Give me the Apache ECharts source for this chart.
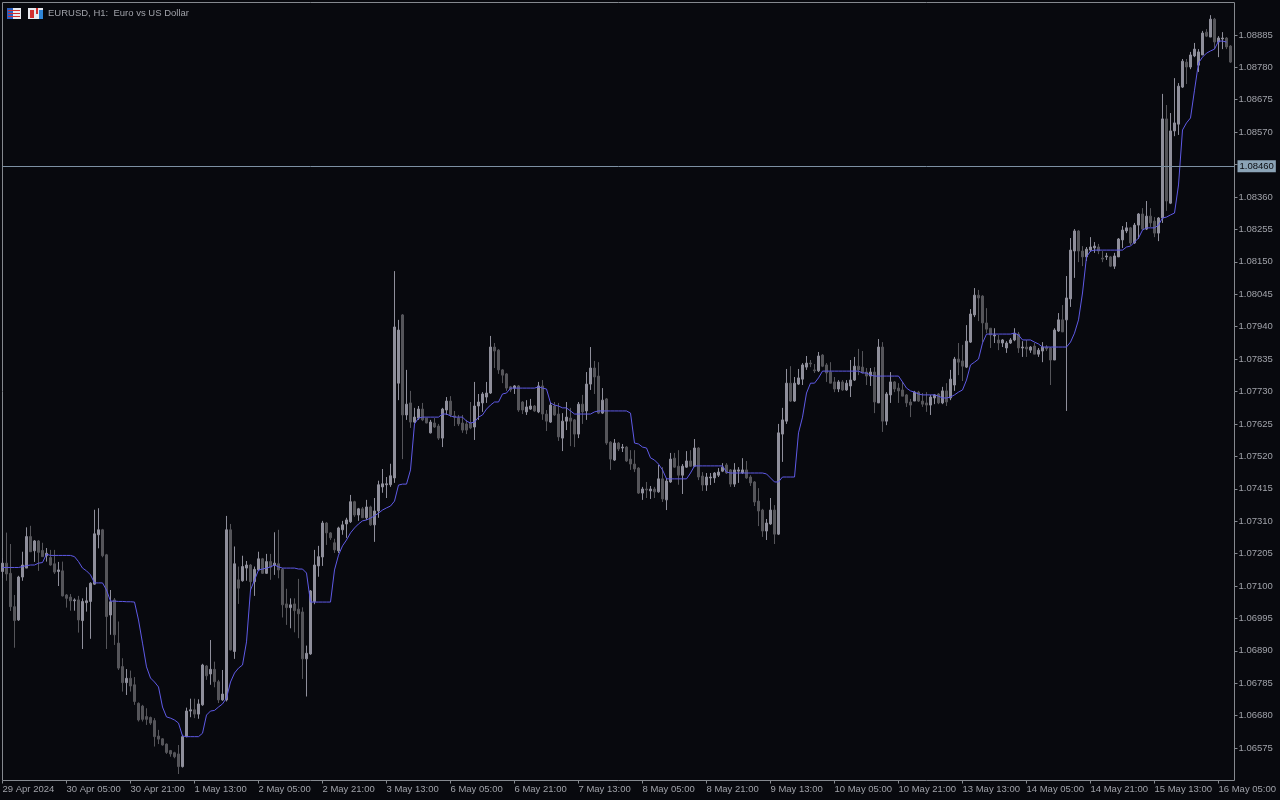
<!DOCTYPE html>
<html>
<head>
<meta charset="utf-8">
<title>EURUSD, H1</title>
<script src="https://cdn.jsdelivr.net/npm/echarts@6/dist/echarts.min.js"></script>
<style>
html,body{margin:0;padding:0;background:#08090e;}
#main{width:1280px;height:800px;}
</style>
</head>
<body>
<div id="main"></div>
<script>
var chartTitle = "EURUSD, H1:  Euro vs US Dollar";
var currentPrice = 1.0846;

// one label every 16 bars
var timeLabels = ["29 Apr 2024","30 Apr 05:00","30 Apr 21:00","1 May 13:00","2 May 05:00","2 May 21:00","3 May 13:00","6 May 05:00","6 May 21:00","7 May 13:00","8 May 05:00","8 May 21:00","9 May 13:00","10 May 05:00","10 May 21:00","13 May 13:00","14 May 05:00","14 May 21:00","15 May 13:00","16 May 05:00"];

// open, close, low, high in points (0.00001)
var candlePoints = [
[107147,107174,107126,107191],[107174,107139,107117,107273],[107141,107033,107019,107236],[107033,106988,106900,107071],
[106990,107129,106987,107133],[107129,107168,107117,107211],[107158,107260,107158,107290],[107260,107211,107210,107295],
[107214,107246,107178,107249],[107246,107209,107149,107249],[107215,107195,107194,107240],[107198,107206,107179,107223],
[107192,107168,107166,107217],[107172,107145,107139,107217],[107147,107152,107100,107178],[107149,107068,107066,107179],
[107071,107060,107030,107074],[107064,107052,107020,107074],[107052,107055,107020,107060],[107055,106990,106949,107068],
[106988,107050,106896,107060],[107046,107052,107017,107096],[107050,107109,106929,107112],[107106,107269,107104,107347],
[107266,107282,107222,107352],[107282,107198,107193,107285],[107201,107001,106896,107204],[107006,107049,106942,107087],
[107055,106942,106909,107061],[106915,106834,106828,106985],[106839,106787,106758,106866],[106787,106801,106747,106831],
[106801,106776,106758,106826],[106780,106726,106715,106805],[106720,106666,106661,106723],[106711,106668,106661,106715],
[106677,106668,106650,106704],[106674,106656,106650,106677],[106664,106612,106580,106672],[106614,106604,106588,106634],
[106605,106585,106583,106607],[106588,106561,106556,106590],[106567,106556,106547,106569],[106560,106547,106542,106563],
[106556,106515,106491,106585],[106515,106612,106512,106618],[106612,106695,106610,106706],[106695,106699,106675,106735],
[106699,106685,106672,106735],[106685,106718,106670,106733],[106715,106844,106712,106848],[106841,106809,106796,106844],
[106815,106830,106780,106925],[106830,106790,106772,106855],[106790,106731,106721,106796],[106731,106750,106728,106828],
[106731,107282,106726,107327],[107282,106893,106891,107301],[106888,107172,106864,107228],[107120,107093,107042,107163],
[107117,107163,107114,107198],[107158,107168,107117,107181],[107168,107114,107082,107171],[107114,107154,107068,107163],
[107152,107188,107150,107211],[107188,107141,107139,107191],[107141,107179,107139,107204],[107179,107161,107120,107204],
[107168,107174,107136,107274],[107172,107152,107125,107282],[107154,107039,106998,107158],[107042,107030,106974,107091],
[107030,107039,106963,107060],[107042,107020,106950,107060],[107025,107010,106931,107123],[107016,106864,106799,107031],
[106864,106882,106742,106907],[106880,107084,106877,107087],[107050,107168,107041,107217],[107165,107195,107130,107230],
[107194,107304,107165,107311],[107304,107272,107233,107307],[107272,107256,107249,107275],[107240,107217,107207,107253],
[107214,107288,107207,107292],[107282,107298,107266,107311],[107301,107314,107256,107321],[107308,107373,107304,107395],
[107373,107330,107324,107376],[107330,107350,107311,107353],[107350,107321,107321,107356],[107321,107356,107314,107379],
[107356,107298,107295,107360],[107298,107343,107243,107385],[107343,107428,107321,107441],[107421,107431,107402,107479],
[107428,107431,107385,107453],[107428,107457,107421,107496],[107450,107939,107434,108120],[107757,107929,107702,107962],
[107978,107654,107511,107981],[107654,107689,107638,107800],[107693,107631,107612,107732],[107631,107647,107628,107677],
[107644,107673,107638,107683],[107673,107638,107634,107693],[107644,107628,107627,107645],[107596,107631,107594,107638],
[107628,107615,107612,107644],[107618,107579,107573,107625],[107579,107673,107550,107677],[107670,107699,107654,107712],
[107699,107654,107647,107715],[107651,107647,107618,107667],[107644,107625,107618,107654],[107628,107605,107596,107654],
[107625,107605,107592,107638],[107628,107612,107608,107696],[107615,107683,107573,107761],[107683,107696,107638,107722],
[107693,107722,107664,107728],[107712,107725,107693,107761],[107725,107874,107722,107910],[107874,107861,107806,107887],
[107864,107800,107787,107867],[107800,107783,107757,107803],[107787,107741,107732,107790],[107745,107735,107728,107748],
[107741,107748,107722,107751],[107748,107670,107664,107751],[107696,107670,107657,107699],[107664,107680,107654,107702],
[107673,107683,107670,107706],[107683,107667,107664,107686],[107664,107748,107660,107761],[107748,107657,107638,107767],
[107657,107634,107602,107670],[107631,107686,107628,107696],[107683,107654,107651,107696],[107657,107583,107570,107693],
[107579,107634,107537,107660],[107634,107647,107605,107696],[107644,107634,107553,107677],[107638,107592,107550,107641],
[107592,107689,107579,107696],[107689,107664,107625,107719],[107667,107754,107638,107793],[107754,107806,107735,107874],
[107806,107777,107722,107829],[107780,107660,107657,107825],[107660,107702,107657,107741],[107706,107563,107557,107709],
[107566,107511,107476,107569],[107508,107563,107505,107576],[107563,107544,107537,107566],[107547,107550,107534,107560],
[107550,107505,107502,107553],[107511,107495,107476,107540],[107495,107479,107469,107540],[107482,107401,107398,107485],
[107401,107414,107379,107421],[107414,107411,107385,107437],[107408,107414,107382,107424],[107414,107405,107385,107421],
[107405,107447,107402,107492],[107447,107382,107372,107485],[107379,107440,107346,107450],[107437,107511,107434,107531],
[107514,107485,107483,107531],[107488,107459,107428,107540],[107459,107488,107398,107495],[107485,107505,107483,107537],
[107505,107488,107486,107540],[107488,107547,107485,107576],[107547,107453,107443,107550],[107456,107427,107408,107469],
[107427,107453,107408,107466],[107450,107453,107427,107466],[107450,107466,107434,107469],[107459,107469,107453,107482],
[107472,107485,107469,107498],[107492,107466,107463,107498],[107476,107430,107421,107479],[107430,107476,107421,107498],
[107472,107476,107434,107485],[107466,107476,107463,107514],[107476,107450,107447,107505],[107453,107434,107424,107459],
[107437,107372,107359,107440],[107375,107343,107294,107417],[107346,107278,107259,107350],[107278,107304,107249,107317],
[107301,107346,107298,107385],[107346,107268,107236,107362],[107268,107596,107265,107625],[107592,107638,107502,107677],
[107634,107757,107625,107803],[107757,107699,107696,107812],[107699,107757,107696,107777],[107754,107774,107751,107803],
[107770,107816,107751,107822],[107809,107822,107800,107845],[107822,107819,107809,107832],[107800,107797,107790,107819],
[107797,107845,107793,107858],[107848,107812,107809,107851],[107816,107790,107761,107822],[107793,107757,107757,107825],
[107761,107738,107728,107777],[107738,107761,107728,107767],[107761,107735,107732,107767],[107735,107757,107732,107767],
[107748,107767,107712,107832],[107767,107812,107764,107842],[107812,107800,107783,107868],[107809,107790,107790,107861],
[107793,107780,107751,107806],[107780,107793,107748,107806],[107793,107696,107660,107809],[107693,107874,107693,107900],
[107874,107634,107599,107890],[107634,107722,107621,107728],[107719,107761,107693,107793],[107761,107738,107728,107764],
[107741,107732,107693,107757],[107735,107715,107715,107761],[107719,107693,107680,107722],[107696,107686,107647,107706],
[107699,107728,107699,107732],[107728,107699,107696,107732],[107699,107689,107680,107725],[107693,107686,107664,107728],
[107686,107712,107654,107719],[107709,107719,107689,107722],[107722,107693,107689,107725],[107693,107732,107689,107745],
[107732,107696,107683,107757],[107709,107770,107702,107800],[107751,107835,107732,107842],[107835,107825,107783,107887],
[107829,107812,107764,107881],[107809,107893,107806,107945],[107890,107981,107887,107997],[107978,108042,107971,108065],
[108042,108033,107958,108059],[108039,107952,107890,108042],[107952,107932,107919,108000],[107935,107913,107871,107935],
[107910,107913,107887,107935],[107897,107887,107864,107913],[107887,107897,107874,107900],[107871,107887,107855,107893],
[107887,107897,107884,107903],[107897,107919,107893,107935],[107916,107871,107855,107923],[107871,107874,107842,107893],
[107874,107868,107842,107897],[107864,107874,107855,107877],[107877,107851,107851,107887],[107851,107864,107842,107871],
[107861,107874,107825,107890],[107874,107868,107861,107880],[107871,107832,107751,107874],[107832,107929,107832,107935],
[107926,107962,107923,107984],[107962,107923,107923,108010],[107962,108033,107667,108104],[108030,108188,108004,108227],
[108185,108250,108098,108256],[108250,108185,108149,108253],[108185,108166,108136,108201],[108166,108191,108153,108198],
[108188,108198,108182,108230],[108195,108201,108179,108214],[108198,108185,108175,108208],[108162,108159,108149,108185],
[108166,108169,108156,108179],[108166,108136,108133,108169],[108136,108169,108127,108179],[108166,108224,108166,108227],
[108221,108253,108195,108266],[108250,108260,108243,108279],[108260,108211,108204,108263],[108211,108269,108208,108276],
[108269,108305,108224,108308],[108305,108256,108253,108324],[108256,108298,108253,108347],[108298,108276,108263,108324],
[108282,108243,108230,108295],[108243,108292,108217,108295],[108292,108613,108276,108694],[108613,108347,108315,108658],
[108340,108574,108337,108632],[108574,108600,108557,108745],[108596,108719,108561,108729],[108716,108800,108713,108807],
[108797,108781,108726,108807],[108781,108820,108774,108830],[108817,108839,108813,108859],[108787,108830,108765,108839],
[108820,108891,108820,108898],[108894,108881,108878,108904],[108878,108936,108878,108949],[108936,108862,108839,108940],
[108862,108875,108813,108881],[108872,108875,108839,108894],[108875,108846,108839,108878],[108849,108797,108794,108852]
];

// blue indicator line, points, one per bar
var linePoints = [
107160,107160,107160,107160,107160,107163,107166,107168,107168,107174,107176,107203,107199,107199,107199,107199,
107199,107199,107195,107179,107158,107149,107136,107110,107110,107110,107087,107051,107051,107050,107050,107049,
107049,107048,106990,106915,106838,106802,106789,106773,106708,106676,106672,106666,106656,106614,106612,106612,
106612,106612,106623,106682,106695,106697,106708,106718,106737,106789,106818,106834,106844,106919,107087,107119,
107152,107155,107158,107162,107168,107162,107158,107158,107158,107158,107155,107155,107142,107048,107048,107048,
107048,107048,107048,107152,107200,107230,107249,107272,107288,107301,107311,107314,107320,107327,107336,107346,
107353,107359,107375,107427,107430,107430,107476,107625,107644,107647,107647,107647,107647,107647,107657,107657,
107651,107647,107647,107647,107634,107628,107631,107647,107654,107673,107686,107696,107696,107722,107725,107741,
107741,107741,107741,107741,107741,107741,107745,107741,107738,107693,107686,107683,107677,107677,107667,107657,
107657,107657,107657,107657,107664,107667,107667,107667,107667,107667,107667,107667,107667,107660,107563,107560,
107550,107547,107515,107508,107495,107476,107447,107447,107447,107447,107447,107447,107466,107489,107489,107489,
107489,107489,107489,107489,107489,107469,107466,107466,107466,107466,107466,107466,107466,107466,107466,107463,
107450,107437,107437,107453,107453,107453,107453,107596,107647,107725,107757,107757,107774,107796,107796,107796,
107796,107796,107796,107796,107796,107796,107796,107790,107790,107783,107780,107780,107780,107780,107780,107780,
107780,107761,107741,107732,107728,107722,107719,107719,107719,107719,107715,107709,107709,107712,107719,107728,
107735,107767,107816,107825,107835,107887,107916,107916,107916,107916,107916,107916,107916,107919,107913,107897,
107897,107897,107890,107884,107874,107874,107874,107874,107874,107874,107874,107890,107919,107962,108049,108166,
108185,108188,108188,108188,108188,108188,108188,108188,108188,108198,108201,108214,108227,108253,108260,108260,
108260,108269,108292,108295,108302,108308,108399,108577,108600,108616,108706,108794,108813,108826,108833,108839,
108865,108865,108862
];

var upColor = "#8f8f9b";
var downColor = "#55555a";
var frameColor = "#85898f";
var textColor = "#a0a2a9";
var fontName = "Liberation Sans";

var categories = [];
var labelByIndex = {};
timeLabels.forEach(function(t, n){ labelByIndex[n * 16] = t; });
// one spare slot after the last bar so the frame ends 4px past it
for(var i = 0; i <= candlePoints.length; i++){
    categories.push(labelByIndex[i] || "");
}

var candleData = candlePoints.map(function(r){
    return r.map(function(v){ return v / 100000; });
});
var lineData = linePoints.map(function(v){ return v / 100000; });

function isLabelBar(index){
    return index % 16 === 0 && index < candlePoints.length;
}

var chart = echarts.init(document.getElementById("main"), null, {renderer: "canvas"});

chart.setOption({
    animation: false,
    backgroundColor: "#08090e",
    textStyle: {fontFamily: fontName},
    title: {
        text: chartTitle,
        left: 48,
        top: 8,
        padding: 0,
        textStyle: {color: textColor, fontSize: 9.5, fontWeight: "normal", fontFamily: fontName}
    },
    grid: {
        show: true,
        left: 2.5,
        top: 2.5,
        width: 1232,
        height: 778,
        outerBoundsMode: "none",
        borderColor: frameColor,
        borderWidth: 1,
        backgroundColor: "transparent"
    },
    xAxis: {
        type: "category",
        data: categories,
        boundaryGap: false,
        axisLine: {show: false},
        axisTick: {show: true, length: 3, interval: isLabelBar, lineStyle: {color: frameColor}},
        splitLine: {show: false},
        axisLabel: {
            interval: isLabelBar,
            hideOverlap: false,
            align: "left",
            margin: 4,
            color: textColor,
            fontSize: 9.5,
            fontFamily: fontName
        }
    },
    yAxis: {
        type: "value",
        position: "right",
        scale: true,
        min: 1.0647,
        max: 1.0899,
        interval: 0.00105,
        splitLine: {show: false},
        axisLine: {show: false},
        axisTick: {show: true, length: 3, lineStyle: {color: frameColor}},
        axisLabel: {
            showMinLabel: false,
            showMaxLabel: false,
            margin: 4,
            color: textColor,
            fontSize: 9.5,
            fontFamily: fontName,
            formatter: function(v){
                // the live price tag replaces this tick
                if(Math.abs(v - 1.08465) < 0.00001){
                    return "";
                }
                return v.toFixed(5);
            }
        }
    },
    series: [
        {
            type: "candlestick",
            data: candleData,
            barWidth: 2,
            clip: true,
            itemStyle: {
                color: upColor,
                color0: downColor,
                borderColor: upColor,
                borderColor0: downColor,
                borderWidth: 1
            }
        },
        {
            type: "line",
            data: lineData,
            showSymbol: false,
            symbol: "none",
            smooth: false,
            lineStyle: {color: "#5f5ae6", width: 1},
            markLine: {
                silent: true,
                symbol: "none",
                precision: 5,
                animation: false,
                lineStyle: {color: "#7d90a3", width: 1, type: "solid"},
                label: {
                    show: true,
                    position: "end",
                    distance: 3,
                    formatter: function(p){ return p.value.toFixed(5); },
                    color: "#0a0c10",
                    backgroundColor: "#8ba3b6",
                    padding: [1, 2, 1, 2],
                    fontSize: 9.5,
                    fontFamily: fontName
                },
                data: [{yAxis: currentPrice}]
            }
        }
    ],
    graphic: [
        {type: "rect", shape: {x: 7, y: 8, width: 14, height: 11}, style: {fill: "#e8eaf0"}},
        {type: "rect", shape: {x: 7, y: 8, width: 6, height: 11}, style: {fill: "#2b5fc0"}},
        {type: "rect", shape: {x: 8, y: 10, width: 12, height: 1}, style: {fill: "#d23030"}},
        {type: "rect", shape: {x: 8, y: 13, width: 12, height: 1}, style: {fill: "#d23030"}},
        {type: "rect", shape: {x: 8, y: 16, width: 12, height: 1}, style: {fill: "#d23030"}},
        {type: "rect", shape: {x: 28, y: 8, width: 15, height: 11}, style: {fill: "#e8eaf0"}},
        {type: "rect", shape: {x: 30, y: 10, width: 4, height: 8}, style: {fill: "#d23030"}},
        {type: "rect", shape: {x: 36, y: 8, width: 2, height: 6}, style: {fill: "#d23030"}},
        {type: "rect", shape: {x: 39, y: 10, width: 4, height: 9}, style: {fill: "#2f86d8"}}
    ]
});
</script>
</body>
</html>
